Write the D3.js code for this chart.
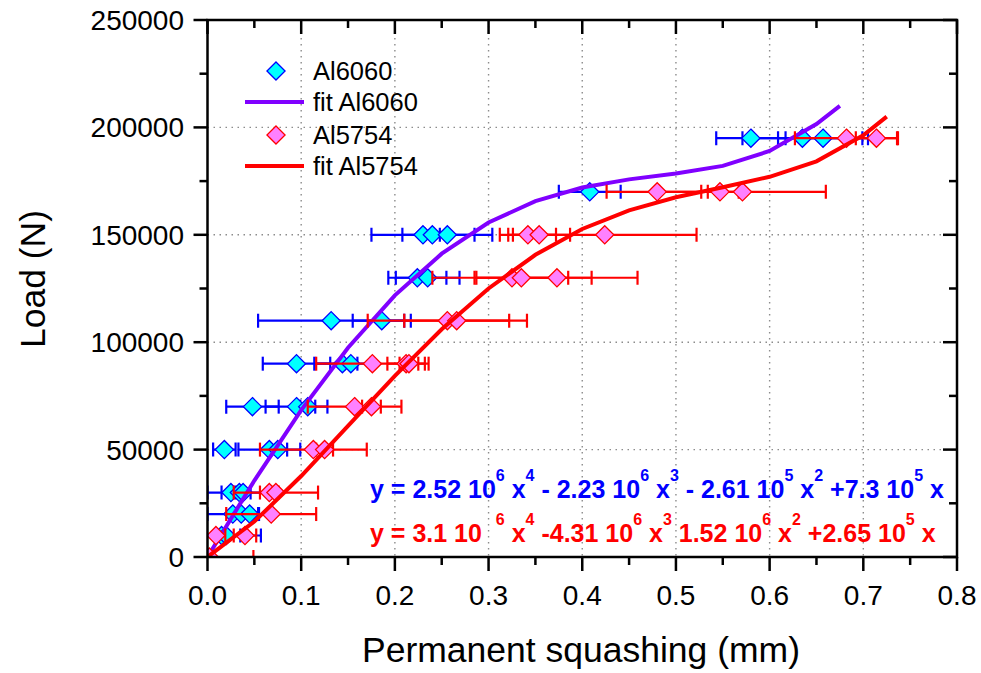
<!DOCTYPE html>
<html lang="en">
<head>
<meta charset="UTF-8">
<title>Load vs permanent squashing</title>
<script src="https://d3js.org/d3.v7.min.js"></script>
<style>
  body { margin: 0; background: #fff; }
  svg { font-family: Arial, "Liberation Sans", sans-serif; }
  .grid line { stroke: #8c8c8c; stroke-width: 1.4; stroke-dasharray: 1.5 4.5; }
</style>
</head>
<body>
<div id="chart"></div>
<script>
// Al6060 specimens: load level, mean squashing, half error bar
const al6060Load = [0, 10000, 10000, 20000, 20000, 20000, 30000, 30000, 30000, 50000, 50000, 50000,
  70000, 70000, 70000, 90000, 90000, 90000, 110000, 110000, 130000, 130000,
  150000, 150000, 150000, 170000, 195000, 195000, 195000];
const al6060X = [0.0, 0.015, 0.020, 0.027, 0.036, 0.045, 0.025, 0.034, 0.038, 0.018, 0.066, 0.075,
  0.048, 0.095, 0.107, 0.095, 0.144, 0.153, 0.132, 0.186, 0.224, 0.235,
  0.230, 0.240, 0.256, 0.408, 0.580, 0.635, 0.657];
const al6060Err = [0.0, 0.020, 0.037, 0.027, 0.010, 0.010, 0.010, 0.034, 0.008, 0.012, 0.033, 0.010,
  0.028, 0.033, 0.008, 0.036, 0.030, 0.007, 0.078, 0.031, 0.031, 0.034,
  0.055, 0.008, 0.048, 0.033, 0.037, 0.064, 0.048];

// Al5754 specimens
const al5754Load = [0, 10000, 10000, 20000, 30000, 30000, 50000, 50000, 70000, 70000,
  90000, 90000, 90000, 110000, 110000, 130000, 130000, 130000,
  150000, 150000, 150000, 170000, 170000, 170000, 195000, 195000];
const al5754X = [0.002, 0.009, 0.040, 0.068, 0.066, 0.073, 0.113, 0.125, 0.157, 0.175,
  0.176, 0.212, 0.215, 0.256, 0.266, 0.325, 0.335, 0.373,
  0.342, 0.354, 0.424, 0.480, 0.547, 0.571, 0.682, 0.714];
const al5754Err = [0.047, 0.010, 0.012, 0.048, 0.010, 0.045, 0.057, 0.009, 0.050, 0.010,
  0.060, 0.020, 0.010, 0.085, 0.056, 0.085, 0.050, 0.086,
  0.030, 0.033, 0.098, 0.054, 0.020, 0.089, 0.055, 0.022];

// fit curves as drawn
const fit6060X = [0, 0.05, 0.10, 0.15, 0.20, 0.25, 0.30, 0.35, 0.40, 0.45, 0.50, 0.55, 0.60, 0.65, 0.675];
const fit6060Y = [0, 35600, 68400, 97400, 121800, 141200, 155700, 165700, 172000, 175800, 178500, 182100, 189000, 201600, 210000];
const fit5754X = [0, 0.05, 0.10, 0.15, 0.20, 0.25, 0.30, 0.35, 0.40, 0.45, 0.50, 0.55, 0.60, 0.65, 0.70, 0.725];
const fit5754Y = [0, 16500, 37700, 61000, 84300, 106000, 125000, 140700, 152700, 161400, 167500, 172100, 177000, 184200, 196300, 205000];

const xTicks = d3.range(0, 0.8001, 0.05);
const yTicks = d3.range(0, 250001, 25000);
const xLabels = [0, 0.1, 0.2, 0.3, 0.4, 0.5, 0.6, 0.7, 0.8];
const yLabels = [0, 50000, 100000, 150000, 200000, 250000];

const legendNames = ["Al6060", "fit Al6060", "Al5754", "fit Al5754"];

const W = 981, H = 673;
const pLeft = 207.5, pRight = 957, pTop = 20, pBottom = 557;

const svg = d3.select("#chart").append("svg")
  .attr("width", W).attr("height", H);

const x = d3.scaleLinear().domain([0, 0.8]).range([pLeft, pRight]);
const y = d3.scaleLinear().domain([0, 250000]).range([pBottom, pTop]);

// grid
const grid = svg.append("g").attr("class", "grid");
grid.selectAll(".gx").data(xLabels.slice(1, -1)).enter().append("line")
  .attr("x1", d => x(d)).attr("x2", d => x(d)).attr("y1", pTop).attr("y2", pBottom);
grid.selectAll(".gy").data(yLabels.slice(1, -1)).enter().append("line")
  .attr("x1", pLeft).attr("x2", pRight).attr("y1", d => y(d)).attr("y2", d => y(d));

svg.append("clipPath").attr("id", "plotclip").append("rect")
  .attr("x", pLeft).attr("y", pTop).attr("width", pRight - pLeft).attr("height", pBottom - pTop);
const plot = svg.append("g").attr("clip-path", "url(#plotclip)");

const diamond = d3.symbol().type(d3.symbolDiamond2).size(210);
const isMajorX = d => Math.abs(d * 10 - Math.round(d * 10)) < 1e-6;
const isMajorY = d => d % 50000 === 0;

function errorBars(g, loads, xs, errs, color) {
  const data = loads.map((l, i) => ({l: l, x: xs[i], e: errs[i]}));
  const eg = g.append("g").attr("stroke", color).attr("stroke-width", 2.2);
  data.forEach(d => {
    if (d.e <= 0) return;
    const yy = y(d.l);
    eg.append("line").attr("x1", x(d.x - d.e)).attr("x2", x(d.x + d.e)).attr("y1", yy).attr("y2", yy);
    [d.x - d.e, d.x + d.e].forEach(v => {
      eg.append("line").attr("x1", x(v)).attr("x2", x(v)).attr("y1", yy - 7).attr("y2", yy + 7);
    });
  });
}

function markers(g, loads, xs, fill, stroke) {
  g.append("g").selectAll("path").data(loads).enter().append("path")
    .attr("d", diamond)
    .attr("transform", (d, i) => "translate(" + x(xs[i]) + "," + y(d) + ")")
    .attr("fill", fill).attr("stroke", stroke).attr("stroke-width", 1.3);
}

const line = d3.line().x(d => x(d[0])).y(d => y(d[1]));

errorBars(plot, al6060Load, al6060X, al6060Err, "#0000ff");
markers(plot, al6060Load, al6060X, "#00ffff", "#0000ff");
plot.append("path").datum(fit6060X.map((v, i) => [v, fit6060Y[i]]))
  .attr("d", line).attr("fill", "none").attr("stroke", "#8000ff").attr("stroke-width", 4);
errorBars(plot, al5754Load, al5754X, al5754Err, "#ff0000");
markers(plot, al5754Load, al5754X, "#ff80ff", "#ff0000");
plot.append("path").datum(fit5754X.map((v, i) => [v, fit5754Y[i]]))
  .attr("d", line).attr("fill", "none").attr("stroke", "#ff0000").attr("stroke-width", 4);

// axes frame
const axes = svg.append("g").attr("stroke", "#000").attr("stroke-width", 2.5);
axes.append("rect").attr("x", pLeft).attr("y", pTop).attr("width", pRight - pLeft).attr("height", pBottom - pTop)
  .attr("fill", "none");
xTicks.forEach(t => {
  const len = isMajorX(t) ? 14 : 8;
  axes.append("line").attr("x1", x(t)).attr("x2", x(t)).attr("y1", pBottom).attr("y2", pBottom + len);
  axes.append("line").attr("x1", x(t)).attr("x2", x(t)).attr("y1", pTop).attr("y2", pTop + len);
});
yTicks.forEach(t => {
  const len = isMajorY(t) ? 14 : 8;
  axes.append("line").attr("x1", pLeft - len).attr("x2", pLeft).attr("y1", y(t)).attr("y2", y(t));
  axes.append("line").attr("x1", pRight - len).attr("x2", pRight).attr("y1", y(t)).attr("y2", y(t));
});

svg.append("g").selectAll("text").data(xLabels).enter().append("text")
  .attr("x", d => x(d)).attr("y", 605).attr("text-anchor", "middle")
  .attr("font-size", 28).text(d => d3.format(".1f")(d));
svg.append("g").selectAll("text").data(yLabels).enter().append("text")
  .attr("x", 184).attr("y", d => y(d) + 10).attr("text-anchor", "end")
  .attr("font-size", 28).text(d => d);

svg.append("text").attr("x", 581).attr("y", 662).attr("text-anchor", "middle")
  .attr("font-size", 35.5).text("Permanent squashing (mm)");
svg.append("text").attr("transform", "translate(45,279) rotate(-90)").attr("text-anchor", "middle")
  .attr("font-size", 35.5).text("Load (N)");

// legend
const lg = svg.append("g").attr("font-size", 25.5);
const rowY = [71, 102, 135, 166];
legendNames.forEach((name, i) => {
  if (i % 2 === 0) {
    lg.append("path").attr("d", diamond)
      .attr("transform", "translate(276," + rowY[i] + ")")
      .attr("fill", i === 0 ? "#00ffff" : "#ff80ff")
      .attr("stroke", i === 0 ? "#0000ff" : "#ff0000").attr("stroke-width", 1.3);
  } else {
    lg.append("line").attr("x1", 245).attr("x2", 304).attr("y1", rowY[i]).attr("y2", rowY[i])
      .attr("stroke", i === 1 ? "#8000ff" : "#ff0000").attr("stroke-width", 4);
  }
  lg.append("text").attr("x", 313).attr("y", rowY[i] + 9).text(name);
});

// fitted equations: plain runs and raised exponents
function equation(parts, yPos, color) {
  const t = svg.append("text").attr("x", 370).attr("y", yPos)
    .attr("font-size", 25).attr("font-weight", "bold").attr("fill", color)
    .attr("xml:space", "preserve");
  let back = 0;
  parts.forEach(p => {
    if (p.sup) {
      t.append("tspan").attr("dy", -17 + back).attr("font-size", 16).text(p.sup);
      back = 17;
    } else {
      t.append("tspan").attr("dy", back).text(p.s);
      back = 0;
    }
  });
}
equation([{s: "y = 2.52 10"}, {sup: "6"}, {s: " x"}, {sup: "4"}, {s: " - 2.23 10"}, {sup: "6"}, {s: " x"}, {sup: "3"},
  {s: " - 2.61 10"}, {sup: "5"}, {s: " x"}, {sup: "2"}, {s: " +7.3 10"}, {sup: "5"}, {s: " x"}], 498, "#0000ff");
equation([{s: "y = 3.1 10  "}, {sup: "6"}, {s: " x"}, {sup: "4"}, {s: " -4.31 10"}, {sup: "6"}, {s: " x"}, {sup: "3"},
  {s: " 1.52 10"}, {sup: "6"}, {s: " x"}, {sup: "2"}, {s: " +2.65 10"}, {sup: "5"}, {s: " x"}], 542, "#ff0000");
</script>
</body>
</html>
